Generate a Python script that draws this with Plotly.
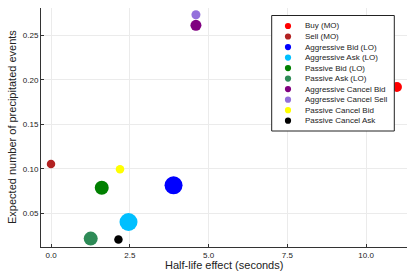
import plotly.graph_objects as go

names = ["Buy (MO)", "Sell (MO)", "Aggressive Bid (LO)", "Aggressive Ask (LO)",
         "Passive Bid (LO)", "Passive Ask (LO)", "Aggressive Cancel Bid",
         "Aggressive Cancel Sell", "Passive Cancel Bid", "Passive Cancel Ask"]
half_life = [10.98, 0.0, 3.89, 2.46, 1.61, 1.26, 4.60, 4.60, 2.19, 2.14]
expected_events = [0.1918, 0.1056, 0.0817, 0.0406, 0.0790, 0.0220, 0.2609, 0.2728, 0.0996, 0.0209]
colors = ["#FF0000", "#B22222", "#0000FF", "#00BFFF", "#008000", "#2E8B57",
          "#800080", "#9370DB", "#FFFF00", "#000000"]
sizes = [10, 8.5, 18, 18, 14, 14, 11, 9, 8.5, 8.5]

x_ticks = [0.0, 2.5, 5.0, 7.5, 10.0]
x_tick_labels = ["0.0", "2.5", "5.0", "7.5", "10.0"]
y_ticks = [0.05, 0.10, 0.15, 0.20, 0.25]
y_tick_labels = ["0.05", "0.10", "0.15", "0.20", "0.25"]
x_title = "Half-life effect (seconds)"
y_title = "Expected number of precipitated events"

fig = go.Figure()
for n, xv, yv, c, s in zip(names, half_life, expected_events, colors, sizes):
    fig.add_trace(go.Scatter(x=[xv], y=[yv], mode="markers", name=n,
                             marker=dict(color=c, size=s, line=dict(width=0))))

font = "Liberation Sans, Arial, sans-serif"

# Compact legend (GR-style), drawn as a boxed overlay
W, H, L, R, T, B = 415, 277, 41, 8, 8, 30
pw, ph = W - L - R, H - T - B
def px(xp):
    return (xp - L) / pw
def py(yp):
    return (H - B - yp) / ph

box_left, box_right, box_top, box_bottom = 271.7, 394.3, 15.5, 131.0
row0, row_gap = 26.0, 10.52
bullet_x, text_x = 288.0, 303.3

shapes = [dict(type="rect", xref="paper", yref="paper",
               x0=px(box_left), x1=px(box_right), y0=py(box_bottom), y1=py(box_top),
               line=dict(color="#222222", width=1), fillcolor="white", layer="above")]
annotations = []
for i, (n, c) in enumerate(zip(names, colors)):
    yc = row0 + i * row_gap
    shapes.append(dict(type="circle", xref="paper", yref="paper",
                       xsizemode="pixel", ysizemode="pixel",
                       xanchor=px(bullet_x), yanchor=py(yc),
                       x0=-3.1, x1=3.1, y0=-3.1, y1=3.1,
                       fillcolor=c, line=dict(width=0), layer="above"))
    annotations.append(dict(text=n, xref="paper", yref="paper",
                            x=px(text_x), y=py(yc), xanchor="left", yanchor="middle",
                            showarrow=False, font=dict(size=8, family=font, color="#222222")))

annotations.append(dict(text=x_title, xref="paper", yref="paper", x=0.5, y=0,
                        xanchor="center", yanchor="middle", yshift=-18,
                        showarrow=False, font=dict(size=11, family=font, color="#222222")))
annotations.append(dict(text=y_title, xref="paper", yref="paper", x=0, y=0.5,
                        xanchor="center", yanchor="middle", xshift=-29.5, textangle=-90,
                        showarrow=False, font=dict(size=11, family=font, color="#222222")))

fig.update_layout(
    width=W, height=H,
    margin=dict(l=L, r=R, t=T, b=B),
    paper_bgcolor="white", plot_bgcolor="white",
    font=dict(family=font, color="#222222"),
    showlegend=False,
    shapes=shapes,
    annotations=annotations,
    xaxis=dict(range=[-0.318, 11.30], tickvals=x_ticks, ticktext=x_tick_labels,
               showgrid=True, gridcolor="#ebebeb", gridwidth=1, zeroline=False,
               showline=True, linecolor="#333333", linewidth=1,
               ticks="inside", ticklen=3, tickcolor="#333333",
               tickfont=dict(size=8)),
    yaxis=dict(range=[0.0126, 0.2803], tickvals=y_ticks, ticktext=y_tick_labels,
               showgrid=True, gridcolor="#ebebeb", gridwidth=1, zeroline=False,
               showline=True, linecolor="#333333", linewidth=1,
               ticks="inside", ticklen=3, tickcolor="#333333",
               tickfont=dict(size=8)),
)
fig.write_html("out.html", config={"displayModeBar": False},
               post_script="document.body.style.margin='0';document.body.style.overflow='hidden';")
